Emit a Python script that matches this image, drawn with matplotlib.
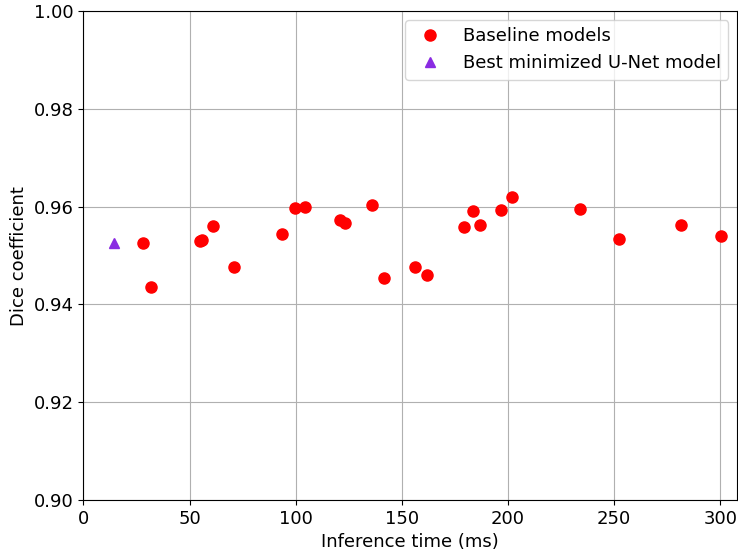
import numpy as np
import matplotlib.pyplot as plt

# inference time (ms) and dice coefficient of the baseline models
baseline_time = [28.2, 31.9, 55.0, 56.0, 61.2, 71.1, 93.6, 99.7, 104.4, 121.1, 123.4,
                 136.1, 141.8, 156.1, 161.7, 179.2, 183.6, 186.7, 196.6, 201.8,
                 233.9, 252.2, 281.5, 300.2]
baseline_dice = [0.9526, 0.9436, 0.9530, 0.9532, 0.9561, 0.9476, 0.9545, 0.9597, 0.9599,
                 0.9572, 0.9566, 0.9604, 0.9454, 0.9476, 0.9460, 0.9558, 0.9591,
                 0.9563, 0.9593, 0.9620, 0.9596, 0.9533, 0.9563, 0.9541]

# best minimized U-Net
best_time = [14.5]
best_dice = [0.9526]

fig = plt.figure(figsize=(7.38, 5.58), dpi=100)
ax = fig.add_axes([0.113, 0.104, 0.886, 0.876])

ax.plot(baseline_time, baseline_dice, 'o', color='red', markersize=8, label='Baseline models')
ax.plot(best_time, best_dice, '^', color='blueviolet', markersize=7, label='Best minimized U-Net model')

ax.set_xlim(0, 308)
ax.set_ylim(0.90, 1.00)
ax.set_xticks([0, 50, 100, 150, 200, 250, 300])
ax.set_xlabel('Inference time (ms)', fontsize=13)
ax.set_ylabel('Dice coefficient', fontsize=13)
ax.tick_params(labelsize=13)
ax.grid(True)
ax.legend(loc='upper right', fontsize=13)

fig.savefig('out.png', dpi=100)
